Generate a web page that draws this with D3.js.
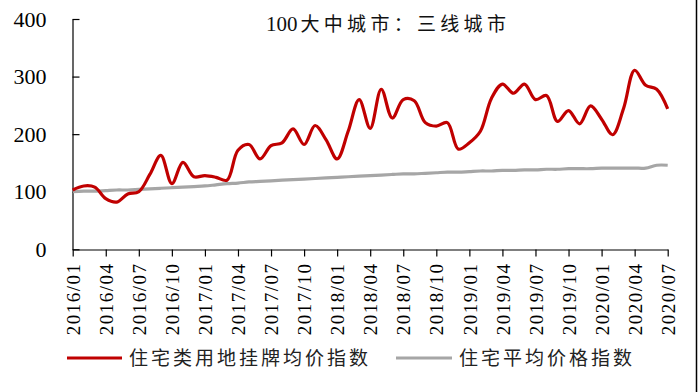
<!DOCTYPE html>
<html>
<head>
<meta charset="utf-8">
<script src="https://cdn.jsdelivr.net/npm/d3@7/dist/d3.min.js"></script>
<style>
  html, body { margin: 0; padding: 0; background: #fff; }
  svg { display: block; }
</style>
</head>
<body>
<svg id="chart" width="698" height="392"></svg>
<script>
const months = [
  "2016/01","2016/02","2016/03","2016/04","2016/05","2016/06","2016/07","2016/08","2016/09","2016/10","2016/11","2016/12",
  "2017/01","2017/02","2017/03","2017/04","2017/05","2017/06","2017/07","2017/08","2017/09","2017/10","2017/11","2017/12",
  "2018/01","2018/02","2018/03","2018/04","2018/05","2018/06","2018/07","2018/08","2018/09","2018/10","2018/11","2018/12",
  "2019/01","2019/02","2019/03","2019/04","2019/05","2019/06","2019/07","2019/08","2019/09","2019/10","2019/11","2019/12",
  "2020/01","2020/02","2020/03","2020/04","2020/05","2020/06","2020/07"
];
const landIndex = [
  103,110,108,88,82,96,100,130,163,114,151,126,
  128,125,120,172,182,157,180,185,209,182,215,190,
  157,205,260,210,278,228,260,258,220,214,220,174,
  185,205,262,287,271,287,260,267,222,241,218,249,
  226,199,245,311,285,278,244
];
const houseIndex = [
  100,101,101,102,103,103,104,105,106,107,108,109,
  110,112,114,115,117,118,119,120,121,122,123,124,
  125,126,127,128,129,130,131,131,132,133,134,134,
  135,136,136,137,137,138,138,139,139,140,140,140,
  141,141,141,141,141,146,146
];
const yTicks = [0, 100, 200, 300, 400];
const xTickLabels = months.filter((m, i) => i % 3 === 0);
const titleNum = "100";
const titleText = "大中城市：三线城市";
const seriesNames = ["住宅类用地挂牌均价指数", "住宅平均价格指数"];
const seriesColors = ["#C00000", "#A6A6A6"];

const svg = d3.select("#chart");
const serif = "'Liberation Serif', 'Times New Roman', 'Noto Sans CJK SC', serif";
const cjk = "'Liberation Serif', 'Noto Sans CJK SC', serif";

const x = d3.scalePoint().domain(months).range([72.7, 667.7]);
const y = d3.scaleLinear().domain([0, 400]).range([249.3, 19]);

// Title
const t = svg.append("text")
  .attr("x", 266).attr("y", 31)
  .attr("font-family", cjk).attr("font-size", 20).attr("fill", "#111");
t.append("tspan").attr("font-size", 21).attr("letter-spacing", 0).text(titleNum);
t.append("tspan").attr("dx", 3).attr("letter-spacing", 4.3).attr("font-size", 19).text(titleText);

// Y axis
const yAxis = svg.append("g")
  .attr("transform", "translate(72.5,0)")
  .call(d3.axisLeft(y).tickValues(yTicks).tickSize(-7).tickSizeOuter(0).tickPadding(26));
yAxis.selectAll("text").attr("font-family", serif).attr("font-size", 22).attr("fill", "#000");
yAxis.selectAll("line,path").attr("stroke", "#000").attr("stroke-width", 1.2);

// X axis
const xAxis = svg.append("g")
  .attr("transform", "translate(0,249.5)")
  .call(d3.axisBottom(x).tickValues(xTickLabels).tickSize(7).tickSizeOuter(0));
xAxis.selectAll("line,path").attr("stroke", "#000").attr("stroke-width", 1.2);
xAxis.selectAll("text")
  .attr("font-family", serif).attr("font-size", 19).attr("letter-spacing", 1.5).attr("fill", "#000")
  .attr("transform", "rotate(-90)")
  .attr("text-anchor", "end")
  .attr("x", -13).attr("y", 0).attr("dy", "0.35em");

// Lines
const line = d3.line().x((d, i) => x(months[i])).y(d => y(d)).curve(d3.curveCatmullRom.alpha(0.5));
svg.append("path").datum(houseIndex).attr("d", line)
  .attr("fill", "none").attr("stroke", seriesColors[1]).attr("stroke-width", 3.2);
svg.append("path").datum(landIndex).attr("d", line)
  .attr("fill", "none").attr("stroke", seriesColors[0]).attr("stroke-width", 3.2);

// Legend
const legend = [
  { name: seriesNames[0], color: seriesColors[0], x1: 67, x2: 122, tx: 129 },
  { name: seriesNames[1], color: seriesColors[1], x1: 396, x2: 452, tx: 459 }
];
legend.forEach(l => {
  svg.append("line").attr("x1", l.x1).attr("x2", l.x2).attr("y1", 358).attr("y2", 358)
    .attr("stroke", l.color).attr("stroke-width", 3.2);
  svg.append("text").attr("x", l.tx).attr("y", 365)
    .attr("font-family", cjk).attr("font-size", 19).attr("letter-spacing", 3).attr("fill", "#222")
    .text(l.name);
});

// Right border
svg.append("line").attr("x1", 696.5).attr("x2", 696.5).attr("y1", 0).attr("y2", 392)
  .attr("stroke", "#000").attr("stroke-width", 1.5);
</script>
</body>
</html>
